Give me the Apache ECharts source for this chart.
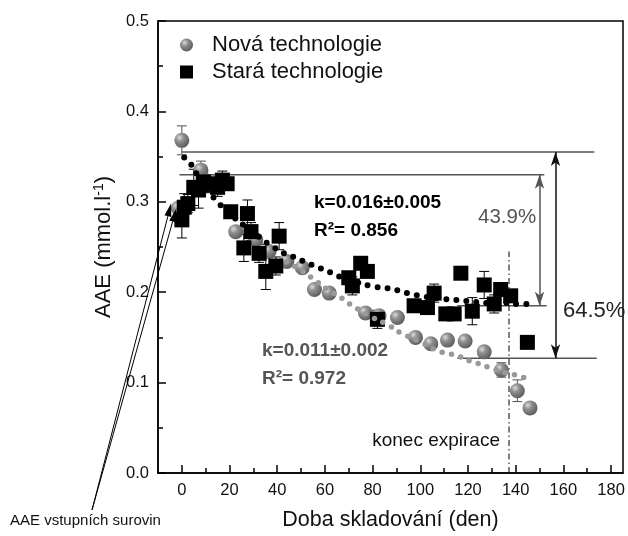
<!DOCTYPE html>
<html><head><meta charset="utf-8">
<script src="https://cdn.jsdelivr.net/npm/echarts@6/dist/echarts.min.js"></script>
<style>html,body{margin:0;padding:0;background:#fff}#c{width:628px;height:536px}</style>
</head><body><div id="c"></div>
<script>
// ---- data ----
const novaDays = [0, -1.5, 8, 22.6, 31, 36.6, 44, 50.5, 55.6, 61.8, 77, 82.7, 90.4, 98, 104.4, 111.4, 118.8, 126.8, 134, 140.7, 146];
const novaAAE  = [0.368, 0.293, 0.335, 0.267, 0.258, 0.245, 0.234, 0.227, 0.203, 0.199, 0.177, 0.174, 0.172, 0.150, 0.143, 0.147, 0.146, 0.134, 0.114, 0.091, 0.072];
const novaErr  = [0.016, 0, 0.010, 0, 0.005, 0, 0, 0, 0.005, 0.004, 0.005, 0.005, 0, 0.004, 0, 0, 0, 0, 0.008, 0.012, 0];

const staraDays = [0, 1, 2.5, 5, 7, 9, 12, 15, 17, 19, 20.5, 27.5, 29, 26, 32.4, 35.2, 39.4, 40.8, 70, 71.5, 75, 77.8, 82, 97.4, 103, 105.8, 110.7, 114.2, 117, 121.8, 126.8, 131, 133.7, 137.9, 144.9];
const staraAAE  = [0.280, 0.294, 0.298, 0.316, 0.313, 0.322, 0.320, 0.316, 0.324, 0.320, 0.289, 0.287, 0.267, 0.249, 0.243, 0.223, 0.229, 0.262, 0.216, 0.207, 0.232, 0.223, 0.170, 0.185, 0.183, 0.199, 0.176, 0.176, 0.221, 0.179, 0.208, 0.187, 0.203, 0.196, 0.1445];
const staraErr  = [0.020, 0.015, 0.010, 0.020, 0.020, 0.010, 0.010, 0.010, 0.010, 0, 0, 0.015, 0.010, 0.015, 0.010, 0.020, 0.010, 0.015, 0.005, 0.010, 0, 0, 0.010, 0, 0, 0.010, 0, 0, 0.005, 0.015, 0.015, 0.010, 0, 0.005, 0];

const fitStaraDays = [1, 3.7, 8, 13.5, 15.6, 20, 26, 32.4, 35.9, 39, 42.9, 46.8, 51.3, 55.5, 59.6, 63.9, 67.3, 72, 79.2, 83.4, 87.6, 91.8, 96, 102, 107.9, 112, 116.3, 120.5, 124.4, 130, 135, 140.7, 144.5];
const fitStaraAAE  = [0.349, 0.342, 0.323, 0.304, 0.298, 0.287, 0.274, 0.261, 0.254, 0.249, 0.243, 0.239, 0.234, 0.229, 0.225, 0.220, 0.216, 0.212, 0.207, 0.205, 0.204, 0.201, 0.198, 0.195, 0.193, 0.192, 0.191, 0.190, 0.189, 0.188, 0.188, 0.187, 0.187];

const fitNovaDays = [44, 50, 55.5, 61, 67.3, 71.5, 80, 87, 91.8, 100, 107.5, 112, 116.3, 120.5, 124.4, 128.6, 133, 137, 140.6, 145];
const fitNovaAAE  = [0.234, 0.224, 0.214, 0.203, 0.193, 0.185, 0.172, 0.163, 0.155, 0.145, 0.135, 0.132, 0.129, 0.124, 0.121, 0.117, 0.113, 0.110, 0.108, 0.104];

// reference lines: [xStart, xEnd, y]
const refLines = [[0, 173, 0.355], [-1, 152, 0.330], [115.5, 153, 0.185], [115.5, 174, 0.127]];
// double arrows: [x, yTop, yBottom]
const arrowInner = [150, 0.330, 0.185];
const arrowOuter = [156.7, 0.355, 0.127];
const expiryDay = 137.2, expiryTop = 0.245;
const rawArrowTips = [[-4.5, 0.298], [-2.4, 0.292]];

const xTicks = [0, 20, 40, 60, 80, 100, 120, 140, 160, 180];
const xMinor = [10, 30, 50, 70, 90, 110, 130, 150, 170];
const yTicks = [0, 0.1, 0.2, 0.3, 0.4, 0.5];

// ---- chart ----
const FONT = 'Liberation Sans, Arial, sans-serif';
const chart = echarts.init(document.getElementById('c'), null, {renderer: 'canvas'});
const sphere = {type: 'radial', x: 0.35, y: 0.32, r: 0.75, colorStops: [
  {offset: 0, color: '#dcdcdc'}, {offset: 0.35, color: '#909090'}, {offset: 1, color: '#575757'}]};

function errSeries(xs, ys, es, color) {
  return {
    type: 'custom', silent: true, z: 1,
    data: xs.map((x, i) => [x, ys[i], es[i]]).filter(d => d[2] > 0),
    encode: {x: 0, y: 1},
    renderItem: (p, api) => {
      const x = api.value(0), y = api.value(1), e = api.value(2);
      const t = api.coord([x, y + e]), b = api.coord([x, y - e]);
      const w = 5, st = {stroke: color, lineWidth: 1};
      return {type: 'group', children: [
        {type: 'line', shape: {x1: t[0], y1: t[1], x2: b[0], y2: b[1]}, style: st},
        {type: 'line', shape: {x1: t[0] - w, y1: t[1], x2: t[0] + w, y2: t[1]}, style: st},
        {type: 'line', shape: {x1: b[0] - w, y1: b[1], x2: b[0] + w, y2: b[1]}, style: st}
      ]};
    }
  };
}

const series = [];
series.push(errSeries(novaDays, novaAAE, novaErr, '#555'));
series.push(errSeries(staraDays, staraAAE, staraErr, '#000'));
series.push({name: 'Nová technologie', type: 'scatter', symbol: 'circle', symbolSize: 15, z: 2,
  data: novaDays.map((x, i) => [x, novaAAE[i]]), itemStyle: {color: sphere, opacity: 1}});
series.push({name: 'Stará technologie', type: 'scatter', symbol: 'rect', symbolSize: 15, z: 3,
  data: staraDays.map((x, i) => [x, staraAAE[i]]), itemStyle: {color: '#000', opacity: 1}});
series.push({type: 'line', silent: true, z: 4, symbol: 'none', smooth: true,
  data: fitNovaDays.map((x, i) => [x, fitNovaAAE[i]]),
  lineStyle: {color: '#999', width: 5.5, type: [0, 9.5], cap: 'round'}});
series.push({type: 'line', silent: true, z: 5, symbol: 'none', smooth: true,
  data: fitStaraDays.map((x, i) => [x, fitStaraAAE[i]]),
  lineStyle: {color: '#000', width: 6, type: [0, 10], cap: 'round'}});
refLines.forEach(r => series.push({type: 'line', silent: true, z: 1, symbol: 'none',
  data: [[r[0], r[2]], [r[1], r[2]]], lineStyle: {color: '#555', width: 1.5}}));
series.push({type: 'line', silent: true, z: 1, symbol: 'none',
  data: [[expiryDay, 0], [expiryDay, expiryTop]], lineStyle: {color: '#000', width: 1, type: [6, 3, 1.5, 3]}});
function arrowLine(a, color) {
  return {type: 'line', silent: true, symbol: 'none', data: [], z: 6,
    markLine: {silent: true, symbol: ['arrow', 'arrow'], symbolSize: [7, 14], label: {show: false},
      lineStyle: {color: color, width: 1.5, type: 'solid'},
      data: [[{coord: [a[0], a[1]]}, {coord: [a[0], a[2]]}]]}};
}
series.push(arrowLine(arrowInner, '#555'));
series.push(arrowLine(arrowOuter, '#111'));

const option = {
  animation: false,
  textStyle: {fontFamily: FONT},
  grid: {left: 158, right: 5, top: 21, bottom: 59, show: true, borderColor: '#000', borderWidth: 1.5},
  legend: {data: ['Nová technologie', 'Stará technologie'], orient: 'vertical', left: 175, top: 29,
    itemWidth: 13, itemHeight: 13, itemGap: 5,
    textStyle: {fontSize: 22, color: '#111', fontFamily: FONT, padding: [0, 0, 0, 14], lineHeight: 22}},
  xAxis: [{
    type: 'value', min: -10, max: 185,
    name: 'Doba skladování (den)', nameLocation: 'middle', nameGap: 36,
    nameTextStyle: {fontSize: 21.5, color: '#111', fontFamily: FONT},
    axisLine: {onZero: false, lineStyle: {color: '#000', width: 1.5}},
    axisTick: {inside: true, length: 8, customValues: xTicks, lineStyle: {color: '#000', width: 1.5}},
    axisLabel: {customValues: xTicks, fontSize: 16.5, color: '#111', margin: 9, fontFamily: FONT},
    splitLine: {show: false}
  }, {
    type: 'value', min: -10, max: 185, position: 'bottom', gridIndex: 0,
    axisLine: {show: false}, axisLabel: {show: false}, splitLine: {show: false},
    axisTick: {inside: true, length: 5, customValues: xMinor, lineStyle: {color: '#000', width: 1.5}}
  }],
  yAxis: {
    type: 'value', min: 0, max: 0.5, interval: 0.1,
    name: '{a|AAE (mmol.l}{s|-1}{a|)}', nameLocation: 'middle', nameGap: 42,
    nameTextStyle: {fontSize: 22, color: '#111', fontFamily: FONT,
      rich: {a: {fontSize: 22, color: '#111', fontFamily: FONT, lineHeight: 24},
             s: {fontSize: 14, color: '#111', fontFamily: FONT, verticalAlign: 'top', lineHeight: 24, padding: [0, 0, 8, 0]}}},
    axisLine: {onZero: false, lineStyle: {color: '#000', width: 1.5}},
    axisTick: {inside: true, length: 8, lineStyle: {color: '#000', width: 1.5}},
    minorTick: {show: true, splitNumber: 2, length: 5, lineStyle: {color: '#000', width: 1.5}},
    axisLabel: {fontSize: 16.5, color: '#111', margin: 9, fontFamily: FONT, formatter: v => v.toFixed(1)},
    splitLine: {show: false}, minorSplitLine: {show: false}
  },
  series: series,
  graphic: [
    {type: 'text', left: 314, top: 193, style: {text: 'k=0.016±0.005', font: 'bold 19px ' + FONT, fill: '#000'}},
    {type: 'text', left: 314, top: 221, style: {text: 'R²= 0.856', font: 'bold 19px ' + FONT, fill: '#000'}},
    {type: 'text', left: 262, top: 341, style: {text: 'k=0.011±0.002', font: 'bold 19px ' + FONT, fill: '#555'}},
    {type: 'text', left: 262, top: 369, style: {text: 'R²= 0.972', font: 'bold 19px ' + FONT, fill: '#555'}},
    {type: 'text', left: 478, top: 207, style: {text: '43.9%', font: '20.5px ' + FONT, fill: '#555'}},
    {type: 'text', left: 563, top: 300, style: {text: '64.5%', font: '22px ' + FONT, fill: '#222'}},
    {type: 'text', right: 128, top: 431, style: {text: 'konec expirace', font: '19px ' + FONT, fill: '#111'}},
    {type: 'text', left: 10, top: 513, style: {text: 'AAE vstupních surovin', font: '15px ' + FONT, fill: '#111'}}
  ]
};
chart.setOption(option);

// arrows from the "AAE vstupních surovin" label to the raw-material points
const origin = [92, 510];
const extra = [];
rawArrowTips.forEach(tp => {
  const p = chart.convertToPixel({xAxisIndex: 0, yAxisIndex: 0}, tp);
  const dx = p[0] - origin[0], dy = p[1] - origin[1];
  const len = Math.hypot(dx, dy), ux = dx / len, uy = dy / len;
  const hl = 13, hw = 3.5;
  const bx = p[0] - ux * hl, by = p[1] - uy * hl;
  extra.push({type: 'line', silent: true, shape: {x1: origin[0], y1: origin[1], x2: bx, y2: by}, style: {stroke: '#000', lineWidth: 1}, z: 10});
  extra.push({type: 'polygon', silent: true, shape: {points: [[p[0], p[1]], [bx - uy * hw, by + ux * hw], [bx + uy * hw, by - ux * hw]]}, style: {fill: '#000'}, z: 10});
});
chart.setOption({graphic: option.graphic.concat(extra)});
</script>
</body></html>
